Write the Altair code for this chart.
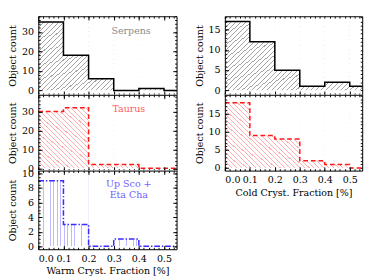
import math
import altair as alt
import pandas as pd

# ---------------- data ----------------
bin_left = [0.0, 0.1, 0.2, 0.3, 0.4, 0.5]
bin_right = [0.1, 0.2, 0.3, 0.4, 0.5, 0.55]
warm_serpens = [35, 18, 6, 0, 1, 0]
warm_taurus = [30, 32, 2, 2, 0, 0]
warm_upsco = [9, 3, 0, 1, 0, 0]
cold_serpens = [17, 12, 5, 1, 2, 1]
cold_taurus = [18, 9, 8, 2, 1, 0]
x_major = [0.0, 0.1, 0.2, 0.3, 0.4, 0.5]

FONT = "DejaVu Serif"
XMAX = 0.55


def frange(a, b, s):
    out, v = [], a
    while v <= b + 1e-9:
        out.append(round(v, 6))
        v += s
    return out


def hatch(w, h, direction, color, d=3.6, lw=0.8):
    if direction == "v":
        x1, y1, x2, y2 = 0, 0, 1, 0
        L = w
    elif direction == "f":
        k = w * (w + h) / (w * w + h * h)
        x1, y1, x2, y2 = 0, 0, k, k * h / w
        L = (w + h) / math.sqrt(2)
    else:
        k = w * (w + h) / (w * w + h * h)
        x1, y1, x2, y2 = 0, 1, k, 1 - k * h / w
        L = (w + h) / math.sqrt(2)
    n = int(L / d)
    dt = lw / L
    stops = [alt.GradientStop(offset=0, color="white")]
    for i in range(n):
        c = (i + 0.5) / n
        a, b = c - dt / 2, c + dt / 2
        stops += [
            alt.GradientStop(offset=a, color="white"),
            alt.GradientStop(offset=a, color=color),
            alt.GradientStop(offset=b, color=color),
            alt.GradientStop(offset=b, color="white"),
        ]
    stops.append(alt.GradientStop(offset=1, color="white"))
    return alt.LinearGradient(gradient="linear", stops=stops, x1=x1, y1=y1, x2=x2, y2=y2)


def panel(counts, dom, ymaj, ymin, texts, text_color, line_color, dash,
          hcolor, direction, w, h, xlabels, xtitle):
    xs = alt.Scale(domain=[0, XMAX], nice=False, zero=False)
    ys = alt.Scale(domain=dom, nice=False, zero=False)
    xmin_vals = frange(0, XMAX, 0.02)
    ax = dict(zindex=1, grid=False, labelFont=FONT, titleFont=FONT,
              labelFontSize=10, titleFontSize=10, labelColor="black",
              titleColor="black", titleFontWeight="normal", minExtent=0)

    def axis(orient, **kw):
        base = dict(ax)
        base.update(orient=orient, domain=False, ticks=False, labels=False, title=None)
        base.update(kw)
        return alt.Axis(**base)

    one = pd.DataFrame({"a": [0]})
    bars = pd.DataFrame({"left": bin_left, "right": bin_right, "count": counts})
    line = pd.DataFrame({"x": bin_left + [XMAX], "y": counts + [counts[-1]]})
    tdf = pd.DataFrame(texts, columns=["x", "y", "t"])

    A = alt.Chart(one).mark_rect(fill=hatch(w, h, direction, hcolor), strokeWidth=0).encode(
        x=alt.XDatum(0, type="quantitative", scale=xs,
                     axis=axis("bottom", domain=True, domainColor="black", domainWidth=1,
                               labels=xlabels, values=x_major, format=".1f",
                               labelPadding=5, title=xtitle, titlePadding=3)),
        x2=alt.X2Datum(XMAX),
        y=alt.YDatum(dom[1], type="quantitative", scale=ys,
                     axis=axis("left", domain=True, domainColor="black", domainWidth=1,
                               labels=True, values=ymaj, labelPadding=5,
                               title="Object count", titlePadding=4)),
        y2=alt.Y2Datum(0),
    )
    B = alt.Chart(bars).mark_rect(fill="white", strokeWidth=0).encode(
        x=alt.X("left:Q", scale=xs, axis=axis("top", domain=True, domainColor="black", domainWidth=1)),
        x2="right:Q",
        y=alt.Y("count:Q", scale=ys, axis=axis("right", domain=True, domainColor="black", domainWidth=1)),
        y2=alt.Y2Datum(dom[1]),
    )
    E = alt.Chart(one).mark_rect(fill="white", strokeWidth=0).encode(
        x=alt.XDatum(0, type="quantitative", scale=xs,
                     axis=axis("bottom", ticks=True, tickSize=2, offset=-2, tickColor="black",
                               values=xmin_vals)),
        x2=alt.X2Datum(XMAX),
        y=alt.YDatum(0, type="quantitative", scale=ys,
                     axis=axis("left", ticks=True, tickSize=2, offset=-2, tickColor="black",
                               values=ymin)),
        y2=alt.Y2Datum(dom[0]),
    )
    C = alt.Chart(line).mark_line(interpolate="step-after", color=line_color,
                                  strokeWidth=1.6, strokeDash=dash).encode(
        x=alt.X("x:Q", scale=xs,
                axis=axis("bottom", ticks=True, tickSize=4, offset=-4, tickColor="black",
                          values=x_major)),
        y=alt.Y("y:Q", scale=ys,
                axis=axis("left", ticks=True, tickSize=4, offset=-4, tickColor="black",
                          values=ymaj)),
    )
    D = alt.Chart(tdf).mark_text(font=FONT, fontSize=10, color=text_color, align="center",
                                 baseline="middle").encode(
        x=alt.X("x:Q", scale=xs,
                axis=axis("top", ticks=True, tickSize=4, offset=-4, tickColor="black",
                          values=x_major)),
        y=alt.Y("y:Q", scale=ys,
                axis=axis("right", ticks=True, tickSize=4, offset=-4, tickColor="black",
                          values=ymaj)),
        text="t:N",
    )
    F = alt.Chart(one).mark_rule(opacity=0).encode(
        x=alt.XDatum(0.2, type="quantitative", scale=xs,
                     axis=axis("top", ticks=True, tickSize=2, offset=-2, tickColor="black",
                               values=xmin_vals)),
        y=alt.YDatum(0, type="quantitative", scale=ys,
                     axis=axis("right", ticks=True, tickSize=2, offset=-2, tickColor="black",
                               values=ymin)),
        x2=alt.X2Datum(0.3),
    )
    layers = [A, B, E, C, D, F] if len(texts) else [A, B, E, C, F]
    return alt.layer(*layers).resolve_axis(x="independent", y="independent").properties(
        width=w, height=h)


SER = dict(text_color="#8c8c8c", line_color="black", dash=[1, 0], hcolor="#a4a4a4", direction="f")
TAU = dict(text_color="#ff5a5a", line_color="#ff1a1a", dash=[5, 3], hcolor="#ffb0b0", direction="b")
UPS = dict(text_color="#7060ff", line_color="#3a2cff", dash=[6, 2, 1.5, 2], hcolor="#bdbaff", direction="v")

WL, WR = 146, 145

p1 = panel(warm_serpens, [-2.2, 38], [0, 10, 20, 30], frange(-2, 38, 2),
           [(0.369, 30.5, "Serpens")], w=WL, h=83, xlabels=False, xtitle=None, **SER)
p2 = panel(warm_taurus, [-1.2, 38.8], [0, 10, 20, 30], frange(0, 38, 2),
           [(0.36, 31, "Taurus")], w=WL, h=80, xlabels=False, xtitle=None, **TAU)
p3 = panel(warm_upsco, [-0.4, 10.4], [0, 2, 4, 6, 8, 10], frange(0, 10, 0.5),
           [(0.36, 8.5, "Up Sco +"), (0.36, 7.0, "Eta Cha")], w=WL, h=83, xlabels=True,
           xtitle="Warm Cryst. Fraction [%]", **UPS)
p4 = panel(cold_serpens, [-1.1, 18.3], [0, 5, 10, 15], frange(-1, 18, 1),
           [], w=WR, h=83, xlabels=False, xtitle=None, **SER)
p5 = panel(cold_taurus, [-0.7, 20.2], [0, 5, 10, 15], frange(0, 20, 1),
           [], w=WR, h=80, xlabels=True, xtitle="Cold Cryst. Fraction [%]", **TAU)

left = alt.vconcat(p1, p2, p3, spacing=0, bounds="flush")
right = alt.vconcat(p4, p5, spacing=0, bounds="flush")
chart = alt.hconcat(left, right, spacing=14).properties(
    padding={"left": -1, "top": 0, "right": 0, "bottom": 0}
).configure_view(stroke=None).configure(background="white")

chart.save("out.html", embed_options={"renderer": "svg", "actions": False})
